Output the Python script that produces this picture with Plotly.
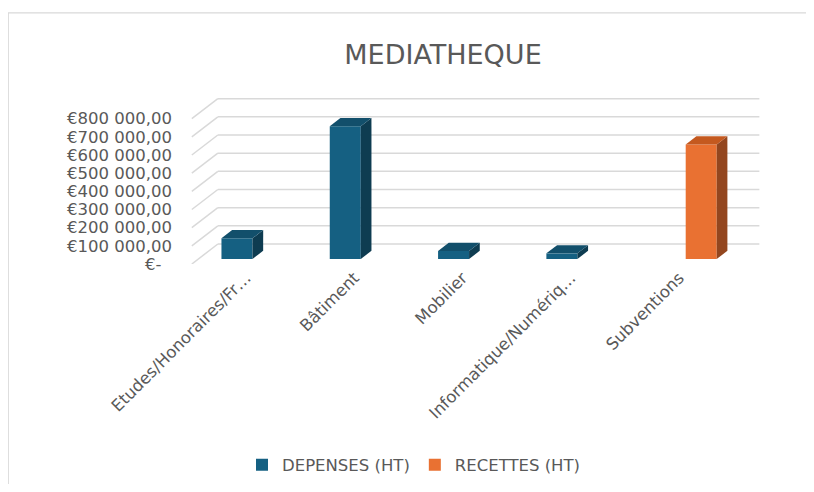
import plotly.graph_objects as go

# ---------------- data ----------------
categories = ["Etudes/Honoraires/Fr…", "Bâtiment", "Mobilier", "Informatique/Numériq…", "Subventions"]
depenses = [114000, 731000, 44000, 31000, None]
recettes = [None, None, None, None, 630000]
tick_values = [0, 100000, 200000, 300000, 400000, 500000, 600000, 700000, 800000]
tick_labels = ["€-\u00a0\u00a0", "€100 000,00", "€200 000,00", "€300 000,00", "€400 000,00",
               "€500 000,00", "€600 000,00", "€700 000,00", "€800 000,00"]
series_names = ["DEPENSES (HT)", "RECETTES (HT)"]

# ---------------- geometry (pixels, figure coordinates) ----------------
OFF = 8  # page body margin
W_FIG, H_FIG = 814 - 2 * OFF, 492 - 2 * OFF
PX_PER_CAT = 108.2
PX_PER_UNIT = 18.2 / 100000
X_RANGE = [-0.6, 4.82]
Y_RANGE = [0, 930000]
FRONT_LEFT = 192 - OFF
PLOT_LEFT = FRONT_LEFT - (-0.5 - X_RANGE[0]) * PX_PER_CAT
PLOT_W = (X_RANGE[1] - X_RANGE[0]) * PX_PER_CAT
PLOT_BOTTOM = 264 - OFF
PLOT_H = (Y_RANGE[1] - Y_RANGE[0]) * PX_PER_UNIT
PLOT_TOP = PLOT_BOTTOM - PLOT_H

# depth of the 3D box in data units
DX = 26 / PX_PER_CAT
DY = 20 / PX_PER_UNIT
Z0, Z1 = 0.25, 0.66
BAR_W = 31 / PX_PER_CAT

TEXT = "#595959"
GRID = "#d9d9d9"
FONT = "DejaVu Sans"

def xp(px):
    return (px - PLOT_LEFT) / PLOT_W

def yp(py):
    return (PLOT_BOTTOM - py) / PLOT_H

def proj(x, y, z):
    return x + z * DX, y + z * DY

fig = go.Figure()

colors = {"DEPENSES (HT)": ("#156082", "#124f6b", "#0e3c51"),
          "RECETTES (HT)": ("#e97132", "#c4591f", "#93461f")}
series = [(series_names[0], depenses, -BAR_W), (series_names[1], recettes, 0.0)]

xs = list(range(len(categories)))
for name, vals, off in series:
    fig.add_trace(go.Bar(
        x=xs, y=vals, base=[Z0 * DY] * len(xs), name=name,
        offset=off + Z0 * DX, width=BAR_W,
        marker=dict(color=colors[name][0], line=dict(width=0)),
    ))

shapes = []
# back wall gridlines and left-side diagonals
for v in tick_values:
    bx0, by = proj(-0.5, v, 1)
    bx1, _ = proj(4.5, v, 1)
    shapes.append(dict(type="line", xref="x", yref="y", x0=bx0, x1=bx1, y0=by, y1=by,
                       line=dict(color=GRID, width=1.5), layer="below"))
    fx, fy = proj(-0.5, v, 0)
    shapes.append(dict(type="line", xref="x", yref="y", x0=fx, x1=bx0, y0=fy, y1=by,
                       line=dict(color=GRID, width=1.5), layer="below"))

# 3D faces of the bars
for name, vals, off in series:
    _, top_c, side_c = colors[name]
    for i, v in enumerate(vals):
        if v is None:
            continue
        x0 = i + off + Z0 * DX
        x1 = x0 + BAR_W
        base = Z0 * DY
        top = base + v
        ddx = (Z1 - Z0) * DX
        ddy = (Z1 - Z0) * DY
        top_path = f"M{x0},{top} L{x1},{top} L{x1+ddx},{top+ddy} L{x0+ddx},{top+ddy} Z"
        side_path = f"M{x1},{base} L{x1},{top} L{x1+ddx},{top+ddy} L{x1+ddx},{base+ddy} Z"
        shapes.append(dict(type="path", xref="x", yref="y", path=side_path,
                           fillcolor=side_c, line=dict(width=0), layer="above"))
        shapes.append(dict(type="path", xref="x", yref="y", path=top_path,
                           fillcolor=top_c, line=dict(width=0), layer="above"))

# chart frame
shapes.append(dict(type="rect", xref="paper", yref="paper",
                   x0=xp(0.6), x1=xp(W_FIG + 20), y0=yp(H_FIG + 20), y1=yp(12.5 - OFF),
                   line=dict(color=GRID, width=1.2), fillcolor="rgba(0,0,0,0)", layer="below"))

fig.update_layout(
    width=W_FIG, height=H_FIG,
    margin=dict(l=PLOT_LEFT, r=W_FIG - PLOT_LEFT - PLOT_W, t=PLOT_TOP, b=H_FIG - PLOT_BOTTOM,
                autoexpand=False),
    paper_bgcolor="white", plot_bgcolor="white",
    barmode="overlay",
    shapes=shapes,
    title=dict(text="MEDIATHEQUE", x=(443 - OFF) / W_FIG, xanchor="center", xref="container",
               y=1 - (55 - OFF) / H_FIG, yanchor="middle", yref="container",
               font=dict(family=FONT, size=27, color=TEXT)),
    xaxis=dict(range=X_RANGE, tickvals=xs, ticktext=categories, tickangle=-45,
               showgrid=False, zeroline=False, showline=False, ticks="",
               tickfont=dict(family=FONT, size=16.5, color=TEXT)),
    yaxis=dict(range=Y_RANGE, tickvals=tick_values, ticktext=tick_labels,
               showgrid=False, zeroline=False, showline=False, ticks="",
               ticklabelstandoff=8,
               tickfont=dict(family=FONT, size=16.5, color=TEXT)),
    legend=dict(orientation="h", xref="container", yref="container",
                x=(242 - OFF) / W_FIG, xanchor="left", y=1 - (465 - OFF) / H_FIG, yanchor="middle",
                font=dict(family=FONT, size=16.5, color=TEXT), itemwidth=30,
                bgcolor="rgba(0,0,0,0)"),
    showlegend=True,
)

fig.write_html("out.html")
